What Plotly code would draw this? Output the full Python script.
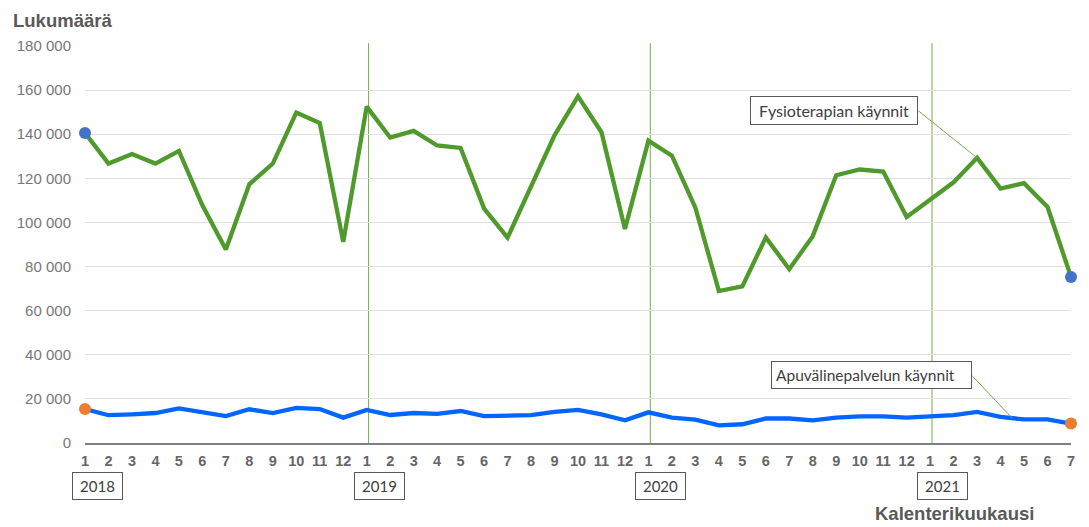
import plotly.graph_objects as go

# kuukausittaiset käynnit 2018/1 - 2021/7
fysio = [140600, 126700, 131000, 126700, 132400, 107800, 87700, 117300, 126700, 149800, 145100, 91200,
         152500, 138500, 141500, 134900, 133800, 106300, 93100, 116700, 139500, 157200, 140900, 97000,
         137100, 130300, 106700, 68900, 71000, 93200, 78800, 93800, 121400, 124000, 123100, 102500,
         110400, 118200, 129300, 115400, 117800, 107000, 75300]
apu = [15400, 12600, 13000, 13600, 15700, 14100, 12200, 15300, 13600, 15900, 15400, 11500,
       15000, 12700, 13600, 13200, 14500, 12200, 12200, 12600, 14100, 15000, 13000, 10300,
       13900, 11500, 10600, 8000, 8500, 11100, 11100, 10300, 11500, 12100, 12100, 11500,
       12100, 12600, 14100, 11800, 10700, 10700, 8800]
month_labels = ["1", "2", "3", "4", "5", "6", "7", "8", "9", "10", "11", "12"] * 3 + \
               ["1", "2", "3", "4", "5", "6", "7"]
years = ["2018", "2019", "2020", "2021"]
year_start = [0, 12, 24, 36]

x = list(range(len(fysio)))

FONT = "Liberation Sans, Arial, sans-serif"
BOX_FONT = "Lato, Carlito, sans-serif"
GREEN = "#4f9a2b"
BLUE = "#0066ff"
VLINE = "#70ad47"

# sivun body-marginaali (8 px) siirtää kuvaa, joten kuva on 8 px pienempi
PAGE_PAD = 8

fig = go.Figure()
fig.add_trace(go.Scatter(x=x, y=fysio, mode="lines", line=dict(color=GREEN, width=4.3),
                         name="Fysioterapian käynnit"))
fig.add_trace(go.Scatter(x=x, y=apu, mode="lines", line=dict(color=BLUE, width=4.3),
                         name="Apuvälinepalvelun käynnit"))
# päätepisteet
fig.add_trace(go.Scatter(x=[x[0], x[-1]], y=[fysio[0], fysio[-1]], mode="markers",
                         marker=dict(color="#4472c4", size=12), cliponaxis=False))
fig.add_trace(go.Scatter(x=[x[0], x[-1]], y=[apu[0], apu[-1]], mode="markers",
                         marker=dict(color="#ed7d31", size=12), cliponaxis=False))

# vuodenvaihteet
for i in year_start[1:]:
    fig.add_shape(type="line", xref="x", yref="paper", x0=i + 0.08, x1=i + 0.08, y0=0, y1=1.007,
                  line=dict(color=VLINE, width=1), layer="between")

annotations = []
for yr, i in zip(years, year_start):
    annotations.append(dict(x=i + 0.53, y=-0.109, xref="x", yref="paper", text=yr, showarrow=False,
                            xanchor="center", yanchor="middle",
                            font=dict(family=BOX_FONT, size=15, color="#404040"),
                            bordercolor="#595959", borderwidth=1, bgcolor="white",
                            width=47, height=24, borderpad=1))

# sarjojen nimilaatikot ja viivat
annotations.append(dict(x=35.5, y=150600, xref="x", yref="y", xanchor="right", yanchor="middle",
                        text="\u00a0Fysioterapian käynnit", showarrow=False, align="left",
                        font=dict(family=BOX_FONT, size=16, color="#404040"),
                        bordercolor="#595959", borderwidth=1, bgcolor="white",
                        width=158, height=19, borderpad=4))
fig.add_shape(type="line", xref="x", yref="y", x0=35.5, y0=150600, x1=38, y1=fysio[38],
              line=dict(color=VLINE, width=1), layer="above")

annotations.append(dict(x=37.77, y=30700, xref="x", yref="y", xanchor="right", yanchor="middle",
                        text="Apuvälinepalvelun käynnit", showarrow=False, align="left",
                        font=dict(family=BOX_FONT, size=15.5, color="#404040"),
                        bordercolor="#595959", borderwidth=1, bgcolor="white",
                        width=191, height=18, borderpad=4))
fig.add_shape(type="line", xref="x", yref="y", x0=37.77, y0=30700, x1=39.5,
              y1=(apu[39] + apu[40]) / 2, line=dict(color=VLINE, width=1), layer="above")

annotations.append(dict(x=-0.075, y=1.065, xref="paper", yref="paper", xanchor="left",
                        yanchor="middle", text="<b>Lukumäärä</b>", showarrow=False,
                        font=dict(family=FONT, size=18.5, color="#595959")))
annotations.append(dict(x=0.882, y=-0.177, xref="paper", yref="paper", xanchor="center",
                        yanchor="middle", text="<b>Kalenterikuukausi</b>", showarrow=False,
                        font=dict(family=FONT, size=18.5, color="#595959")))

fig.update_layout(
    width=1089 - PAGE_PAD, height=527 - PAGE_PAD,
    margin=dict(l=85 - PAGE_PAD, r=18, t=46 - PAGE_PAD, b=84, autoexpand=False),
    plot_bgcolor="white", paper_bgcolor="white",
    showlegend=False,
    separators=". ",
    annotations=annotations,
    font=dict(family=FONT),
)
fig.update_xaxes(range=[0, len(fysio) - 1], tickvals=x, ticktext=month_labels, showgrid=False,
                 zeroline=False, showline=True, linecolor="#7f7f7f", linewidth=2,
                 ticks="", ticklabelstandoff=4, automargin=False,
                 tickfont=dict(family=FONT, size=14.5, color="#666666", weight="bold"))
fig.update_yaxes(range=[0, 180000], dtick=20000, tickformat=",d", showgrid=True,
                 gridcolor="#e0e0e0", gridwidth=1, zeroline=False, showline=False,
                 ticks="", ticklabelstandoff=13, automargin=False,
                 tickfont=dict(family=FONT, size=15, color="#777777"))

fig.write_html("out.html")
